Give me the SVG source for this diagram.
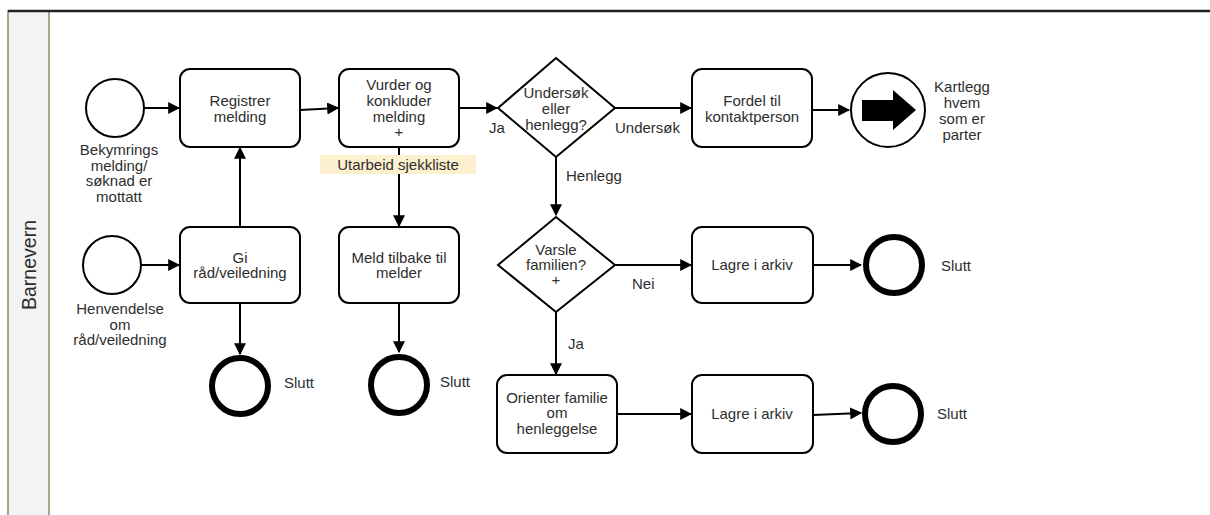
<svg xmlns="http://www.w3.org/2000/svg" width="1210" height="515" viewBox="0 0 1210 515">
  <style>
    .task { fill: #fff; stroke: #000; stroke-width: 2; }
    .start { fill: #fff; stroke: #000; stroke-width: 2; }
    .end { fill: #fff; stroke: #000; stroke-width: 6; }
    .gw { fill: #fff; stroke: #000; stroke-width: 2; }
    .flow { fill: none; stroke: #000; stroke-width: 2; marker-end: url(#arrow); }
    text { font-family: "Liberation Sans", Arial, sans-serif; font-size: 15px; fill: #2e2e2e; text-anchor: middle; }
    .lbl { text-anchor: start; }
  </style>
  <defs>
    <marker id="arrow" viewBox="0 0 10 10" refX="9" refY="5" markerWidth="6" markerHeight="6" markerUnits="strokeWidth" orient="auto">
      <path d="M0,0 L10,5 L0,10 z" fill="#000"/>
    </marker>
  </defs>

  <rect width="1210" height="515" fill="#fff"/>

  <!-- pool / lane -->
  <g id="lane">
    <rect x="8" y="11" width="41" height="510" fill="#f3f3f3" stroke="#a8a48e" stroke-width="2"/>
    <line x1="8" y1="11" x2="1210" y2="11" stroke="#222" stroke-width="2.5"/>
    <text x="0" y="0" transform="translate(36,265) rotate(-90)" style="font-size:19.5px">Barnevern</text>
  </g>

  <!-- connectors -->
  <g id="connectors">
    <path class="flow" d="M144,108 L179,108"/>
    <path class="flow" d="M300,110 L338,108"/>
    <path class="flow" d="M459,108 L497,108"/>
    <path class="flow" d="M615,108 L691,108"/>
    <path class="flow" d="M812,110 L849,110"/>
    <path class="flow" d="M141,265 L179,265"/>
    <path class="flow" d="M240,227 L240,148"/>
    <path class="flow" d="M240,303 L240,354"/>
    <path class="flow" d="M399,147 L399,226"/>
    <path class="flow" d="M399,303 L399,352"/>
    <path class="flow" d="M556,157 L556,215"/>
    <path class="flow" d="M615,265 L691,265"/>
    <path class="flow" d="M813,265 L861,265"/>
    <path class="flow" d="M556,312 L556,374"/>
    <path class="flow" d="M617,414 L691,414"/>
    <path class="flow" d="M813,415 L861,413"/>
    <text class="lbl" x="489" y="133">Ja</text>
    <text class="lbl" x="615" y="133">Undersøk</text>
    <text class="lbl" x="566" y="181">Henlegg</text>
    <text class="lbl" x="632" y="289">Nei</text>
    <text class="lbl" x="568" y="349">Ja</text>
  </g>

  <!-- start events -->
  <g id="start1">
    <circle class="start" cx="115" cy="108" r="29"/>
    <text x="119" y="155">Bekymrings</text>
    <text x="119" y="171">melding/</text>
    <text x="119" y="186">søknad er</text>
    <text x="119" y="202">mottatt</text>
  </g>
  <g id="start2">
    <circle class="start" cx="112" cy="265" r="29"/>
    <text x="120" y="314">Henvendelse</text>
    <text x="120" y="330">om</text>
    <text x="120" y="345">råd/veiledning</text>
  </g>

  <!-- tasks -->
  <g id="registrer">
    <rect class="task" x="180" y="69" width="120" height="78" rx="10"/>
    <text x="240" y="106">Registrer</text>
    <text x="240" y="122">melding</text>
  </g>
  <g id="vurder">
    <rect class="task" x="339" y="69" width="120" height="78" rx="10"/>
    <text x="399" y="90">Vurder og</text>
    <text x="399" y="106">konkluder</text>
    <text x="399" y="122">melding</text>
    <text x="399" y="137">+</text>
  </g>
  <g id="sjekkliste">
    <rect x="320" y="155" width="156" height="19" fill="#fdf0cf"/>
    <text x="398" y="170">Utarbeid sjekkliste</text>
  </g>
  <g id="gi-rad">
    <rect class="task" x="180" y="227" width="120" height="76" rx="10"/>
    <text x="240" y="263">Gi</text>
    <text x="240" y="278">råd/veiledning</text>
  </g>
  <g id="meld-tilbake">
    <rect class="task" x="339" y="227" width="120" height="76" rx="10"/>
    <text x="399" y="263">Meld tilbake til</text>
    <text x="399" y="278">melder</text>
  </g>
  <g id="fordel">
    <rect class="task" x="692" y="69" width="120" height="78" rx="10"/>
    <text x="752" y="106">Fordel til</text>
    <text x="752" y="122">kontaktperson</text>
  </g>
  <g id="lagre1">
    <rect class="task" x="692" y="227" width="121" height="76" rx="10"/>
    <text x="752" y="270">Lagre i arkiv</text>
  </g>
  <g id="orienter">
    <rect class="task" x="497" y="375" width="120" height="78" rx="10"/>
    <text x="557" y="403">Orienter familie</text>
    <text x="557" y="418">om</text>
    <text x="557" y="434">henleggelse</text>
  </g>
  <g id="lagre2">
    <rect class="task" x="692" y="375" width="121" height="78" rx="10"/>
    <text x="752" y="419">Lagre i arkiv</text>
  </g>

  <!-- gateways -->
  <g id="gw-undersok">
    <polygon class="gw" points="556,58 615,108 556,157 498,108"/>
    <text x="556" y="98">Undersøk</text>
    <text x="556" y="114">eller</text>
    <text x="556" y="130">henlegg?</text>
  </g>
  <g id="gw-varsle">
    <polygon class="gw" points="556,217 615,265 556,312 498,265"/>
    <text x="556" y="255">Varsle</text>
    <text x="556" y="270">familien?</text>
    <text x="556" y="285">+</text>
  </g>

  <!-- link / end events -->
  <g id="kartlegg">
    <circle class="start" cx="888" cy="110" r="37"/>
    <path d="M862,100 L893,100 L893,90 L916,110 L893,130 L893,121 L862,121 z" fill="#000"/>
    <text x="962" y="92">Kartlegg</text>
    <text x="962" y="108">hvem</text>
    <text x="962" y="124">som er</text>
    <text x="962" y="140">parter</text>
  </g>
  <g id="end1">
    <circle class="end" cx="240" cy="386" r="28"/>
    <text x="299" y="388">Slutt</text>
  </g>
  <g id="end2">
    <circle class="end" cx="399" cy="385" r="28"/>
    <text x="455" y="387">Slutt</text>
  </g>
  <g id="end3">
    <circle class="end" cx="894" cy="265" r="28"/>
    <text x="956" y="271">Slutt</text>
  </g>
  <g id="end4">
    <circle class="end" cx="893" cy="414" r="28"/>
    <text x="952" y="419">Slutt</text>
  </g>
</svg>
